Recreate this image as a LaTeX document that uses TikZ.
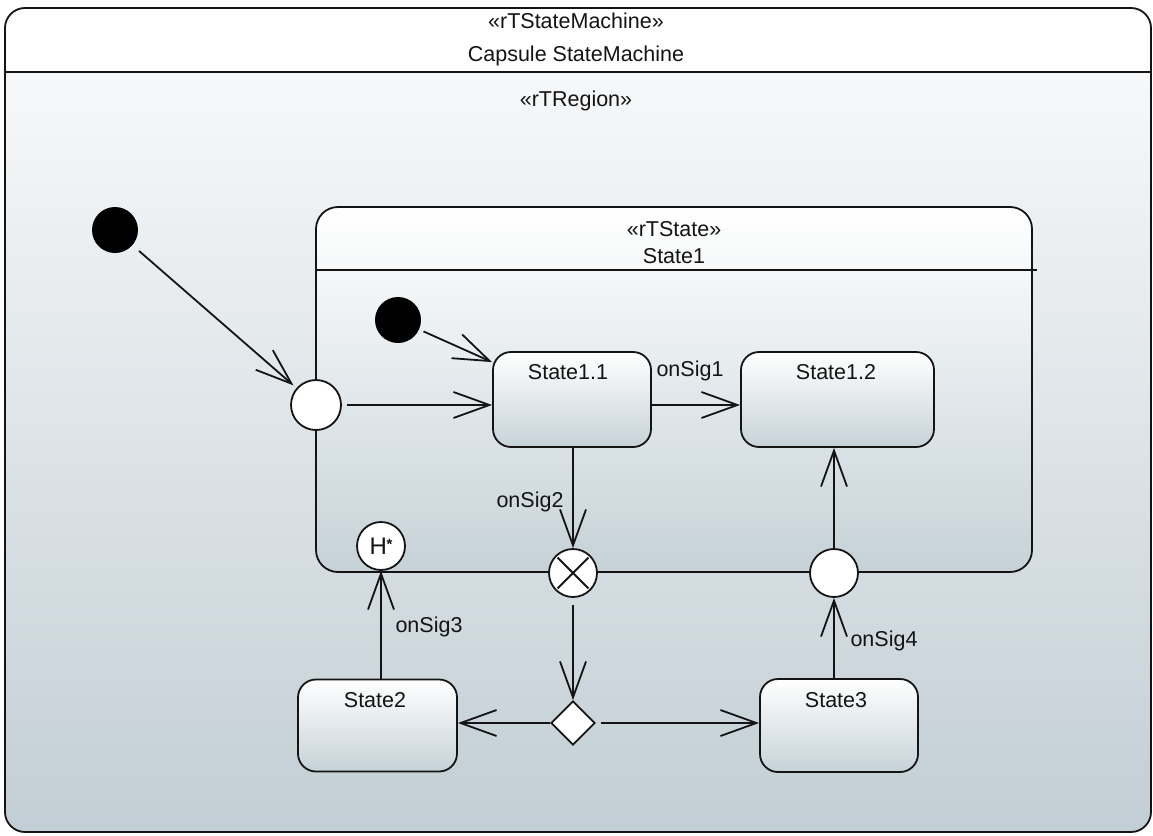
\documentclass[tikz,border=0pt]{standalone}
\usepackage{fontspec}
\setmainfont{Liberation Sans}
\usetikzlibrary{arrows.meta,shapes.geometric,calc}

\definecolor{ink}{HTML}{141414}
\definecolor{regiontop}{HTML}{F7F8F9}
\definecolor{regionbot}{HTML}{C2CED5}
\definecolor{statebot}{HTML}{C6D2D8}

\begin{document}
\begin{tikzpicture}[x=1pt,y=-1pt,
  line width=1.8pt,
  every node/.style={font=\fontsize{21.5}{25}\selectfont, text=ink},
  arr/.style={draw=ink, -{Straight Barb[length=36pt,width=26pt,line width=1.8pt]}},
  statebox/.style={draw=ink, rounded corners=18pt, top color=white, bottom color=statebot,
                   inner sep=0pt},
  pseudo/.style={circle, draw=ink, fill=white, inner sep=0pt, minimum size=48pt},
  initial/.style={circle, fill=black, draw=none, inner sep=0pt, minimum size=46pt},
  choice/.style={diamond, draw=ink, fill=white, inner sep=0pt, minimum size=44pt},
  lbl/.style={inner sep=1pt}
]
\useasboundingbox (0,0) rectangle (1153,835);

% capsule state machine frame: white header, shaded region
\begin{scope}
  \clip[rounded corners=20pt] (5,8) rectangle (1151,832);
  \shade[top color=regiontop, bottom color=regionbot] (5,72) rectangle (1151,832);
  \fill[white] (5,8) rectangle (1151,72);
\end{scope}
\draw[ink, rounded corners=20pt] (5,8) rectangle (1151,832);
\draw[ink] (5,72) -- (1151,72);

\node (smstereo) at (576,21) {«rTStateMachine»};
\node (smname)   at (576,56) {Capsule StateMachine};
\node (regstereo) at (576,101) {«rTRegion»};

% composite state State1
\node[statebox, rounded corners=22pt, minimum width=716pt, minimum height=365pt]
  (state1) at (674,389.5) {};
\draw[ink] ($(state1.north west)+(2,64)$) -- ($(state1.north east)+(4,64)$);
\node (s1stereo) at (674,229) {«rTState»};
\node (s1name)   at (674,256) {State1};

% pseudostates
\node[initial] (init0) at (115,230) {};
\node[initial] (init1) at (398,320) {};
\node[pseudo, minimum size=50pt] (entry1) at (316,405) {};
\node[pseudo] (exitX) at (573,573) {};
\draw[ink, shorten <=3pt, shorten >=3pt] (exitX.north west) -- (exitX.south east);
\draw[ink, shorten <=3pt, shorten >=3pt] (exitX.north east) -- (exitX.south west);
\node[pseudo] (entry2) at (834,573) {};
\node[pseudo, font=\fontsize{24}{26}\selectfont] (hist) at (381,546)
  {H\kern-0.5pt\raisebox{5pt}{\fontsize{15}{15}\selectfont\bfseries*}};
\node[choice] (junc) at (573,723) {};

% simple states
\node[statebox, minimum width=158pt, minimum height=95pt] (s11) at (572,399.5) {};
\node[lbl] (s11name) at (568,372) {State1.1};
\node[statebox, minimum width=193pt, minimum height=95pt] (s12) at (837.5,399.5) {};
\node[lbl] (s12name) at (836,372) {State1.2};
\node[statebox, minimum width=159pt, minimum height=92pt] (s2) at (377.5,725.5) {};
\node[lbl] (s2name) at (375,700) {State2};
\node[statebox, minimum width=158pt, minimum height=93pt] (s3) at (839,725.5) {};
\node[lbl] (s3name) at (836,700) {State3};

% transitions
\draw[arr, shorten <=8pt, shorten >=4pt] (init0) -- (entry1);
\draw[arr, shorten <=4pt] (init1) -- ($(s11.north west)+(0,11)$);
\draw[arr, shorten <=5pt] (entry1.east) -- (entry1 -| s11.west);
\draw[arr] (s11.east |- entry1) -- (entry1 -| s12.west);
\draw[arr] (s11.south -| exitX) -- (exitX.north);
\draw[arr, shorten <=7pt] (exitX.south) -- (junc.north);
\draw[arr] (junc.west) -- (s2.east |- junc);
\draw[arr, shorten <=5pt] (junc.east) -- (s3.west |- junc);
\draw[arr] (hist |- s2.north) -- (hist.south);
\draw[arr] (entry2 |- s3.north) -- (entry2.south);
\draw[arr] (entry2.north) -- (entry2 |- s12.south);

% transition labels
\node[lbl] (sig1) at (690,371) {onSig1};
\node[lbl] (sig2) at (530,502) {onSig2};
\node[lbl] (sig3) at (429,627) {onSig3};
\node[lbl] (sig4) at (884,641) {onSig4};
\end{tikzpicture}
\end{document}
